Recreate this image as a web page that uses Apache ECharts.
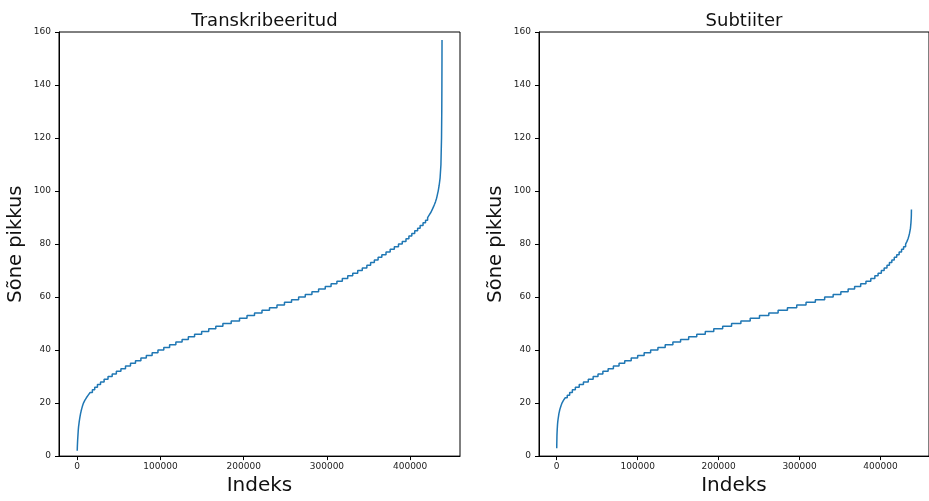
<!DOCTYPE html>
<html>
<head>
<meta charset="utf-8">
<script src="https://cdn.jsdelivr.net/npm/echarts@6/dist/echarts.min.js"></script>
<style>
  html, body { margin: 0; padding: 0; background: #fff; }
  #chart { width: 929px; height: 501px; }
</style>
</head>
<body>
<div id="chart"></div>
<script>
// sorted string lengths: each length and the index where it starts
const transLengths = [
  2, 3, 4, 5, 6, 7, 8, 9, 10, 11, 12, 13, 14, 15, 16, 17, 18, 19, 20, 21,
  22, 23, 24, 25, 26, 27, 28, 29, 30, 31, 32, 33, 34, 35, 36, 37, 38, 39, 40, 41,
  42, 43, 44, 45, 46, 47, 48, 49, 50, 51, 52, 53, 54, 55, 56, 57, 58, 59, 60, 61,
  62, 63, 64, 65, 66, 67, 68, 69, 70, 71, 72, 73, 74, 75, 76, 77, 78, 79, 80, 81,
  82, 83, 84, 85, 86, 87, 88, 89, 90, 91, 92, 93, 94, 95, 96, 97, 98, 99, 100,
  102, 105, 110, 120, 130, 140, 150, 157
];
const transStart = [
  0, 100, 200, 350, 500, 700, 900, 1100, 1300, 1600, 2000, 2400, 2900, 3400, 4000, 4700, 5500, 6400, 7500, 9100,
  11000, 13200, 15500, 18200, 21000, 24300, 28000, 32300, 37000, 42000, 47000, 52500, 58000, 64000, 70000, 76500, 83000, 90000, 97000, 104000,
  111000, 118500, 126000, 133500, 141000, 149500, 158000, 166500, 175000, 185000, 195000, 204000, 213000, 222000, 231000, 240000, 249000, 257500, 266000, 274000,
  282000, 290000, 298000, 305000, 312000, 318500, 325000, 331000, 337000, 342500, 348000, 352500, 357000, 361500, 366000, 371000, 376000, 381000, 386000, 390500,
  395000, 398500, 402000, 405500, 409000, 412000, 415500, 418500, 421000, 423000, 425000, 426500, 428000, 429300, 430500, 431500, 432300, 433000, 433700,
  434800, 436000, 437000, 437700, 438000, 438150, 438250, 438300
];

const subLengths = [
  3, 4, 5, 6, 7, 8, 9, 10, 11, 12, 13, 14, 15, 16, 17, 18, 19, 20, 21, 22,
  23, 24, 25, 26, 27, 28, 29, 30, 31, 32, 33, 34, 35, 36, 37, 38, 39, 40, 41, 42,
  43, 44, 45, 46, 47, 48, 49, 50, 51, 52, 53, 54, 55, 56, 57, 58, 59, 60, 61, 62,
  63, 64, 65, 66, 67, 68, 69, 70, 71, 72, 73, 74, 75, 76, 77, 78, 79, 80, 81, 82,
  83, 84, 85, 86, 87, 88, 89, 90, 91, 92, 93
];
const subStart = [
  0, 50, 100, 170, 240, 300, 450, 600, 800, 1000, 1300, 1700, 2200, 2700, 3400, 4200, 5300, 6500, 8300, 10500,
  13000, 16000, 19300, 23000, 27800, 33000, 39000, 45000, 51000, 57000, 63500, 70000, 77000, 84000, 92000, 100000, 108000, 116000, 125000, 134000,
  143500, 153000, 163000, 173000, 183500, 194000, 205000, 216000, 227500, 239000, 250500, 262000, 273500, 285000, 296500, 308000, 319500, 331000, 341500, 351000,
  360000, 368000, 375500, 382000, 388000, 393000, 397000, 401000, 404500, 408000, 411000, 414000, 417000, 420000, 423000, 426000, 428500, 431000, 432700, 434000,
  435000, 435800, 436400, 437000, 437300, 437600, 437800, 438000, 438100, 438150, 438200
];

const xTicks = [0, 100000, 200000, 300000, 400000];
const titles = ['Transkribeeritud', 'Subtiiter'];

const lineColor = '#1f77b4';
const axisColor = '#000';
const textColor = '#222';
const fontFamily = '"DejaVu Sans", sans-serif';

const grids = [
  { left: 59, top: 32, width: 401, height: 428 },
  { left: 539, top: 32, width: 400, height: 428 }
];

function xAxisFor(i) {
  return {
    type: 'value',
    gridIndex: i,
    min: -21900,
    max: 459900,
    name: 'Indeks',
    nameLocation: 'middle',
    nameGap: 17,
    nameTextStyle: { fontSize: 20, color: '#111', fontFamily: fontFamily },
    splitLine: { show: false },
    axisLine: { onZero: false, lineStyle: { color: axisColor, width: 1 } },
    axisTick: { show: true, length: 4, customValues: xTicks, lineStyle: { color: axisColor } },
    axisLabel: {
      customValues: xTicks,
      formatter: v => String(v),
      fontSize: 9, color: textColor, margin: 6, fontFamily: fontFamily
    }
  };
}

function yAxisFor(i) {
  return {
    type: 'value',
    gridIndex: i,
    min: 0,
    max: 160,
    interval: 20,
    name: 'Sõne pikkus',
    nameLocation: 'middle',
    nameGap: 33,
    nameTextStyle: { fontSize: 19.5, color: '#111', fontFamily: fontFamily },
    splitLine: { show: false },
    axisLine: { show: true, onZero: false, lineStyle: { color: axisColor, width: 1 } },
    axisTick: { show: true, length: 4, lineStyle: { color: axisColor } },
    axisLabel: { fontSize: 9, color: textColor, margin: 8, fontFamily: fontFamily }
  };
}

const chart = echarts.init(document.getElementById('chart'));
chart.setOption({
  animation: false,
  backgroundColor: '#fff',
  title: titles.map((t, i) => ({
    text: t,
    left: grids[i].left + grids[i].width / 2,
    top: 7,
    textAlign: 'center',
    textStyle: { fontSize: 18, fontWeight: 'normal', color: '#111', fontFamily: fontFamily }
  })),
  grid: grids.map(g => Object.assign({
    show: true,
    borderColor: axisColor,
    borderWidth: 1,
    backgroundColor: 'transparent',
    containLabel: false
  }, g)),
  xAxis: [xAxisFor(0), xAxisFor(1)],
  yAxis: [yAxisFor(0), yAxisFor(1)],
  series: [
    {
      type: 'line',
      xAxisIndex: 0,
      yAxisIndex: 0,
      step: 'end',
      showSymbol: false,
      data: transStart.map((x, k) => [x, transLengths[k]]),
      lineStyle: { color: lineColor, width: 1.5 },
      itemStyle: { color: lineColor }
    },
    {
      type: 'line',
      xAxisIndex: 1,
      yAxisIndex: 1,
      step: 'end',
      showSymbol: false,
      data: subStart.map((x, k) => [x, subLengths[k]]),
      lineStyle: { color: lineColor, width: 1.5 },
      itemStyle: { color: lineColor }
    }
  ]
});
</script>
</body>
</html>
